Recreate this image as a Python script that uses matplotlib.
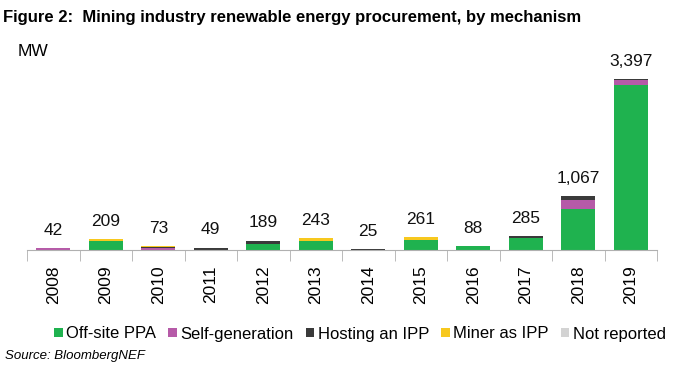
import matplotlib
matplotlib.use("Agg")
import matplotlib.pyplot as plt
import numpy as np

plt.rcParams['font.family'] = ['Liberation Sans', 'DejaVu Sans']

years = ["2008", "2009", "2010", "2011", "2012", "2013", "2014", "2015", "2016", "2017", "2018", "2019"]
totals = [42, 209, 73, 49, 189, 243, 25, 261, 88, 285, 1067, 3397]
offsite_ppa = [0, 180, 0, 0, 110, 180, 0, 190, 88, 240, 810, 3290]
self_generation = [30, 0, 30, 0, 0, 0, 0, 0, 0, 0, 180, 97]
hosting_ipp = [0, 0, 20, 49, 79, 0, 15, 0, 0, 45, 77, 10]
miner_as_ipp = [12, 29, 23, 0, 0, 63, 0, 71, 0, 0, 0, 0]
not_reported = [0, 0, 0, 0, 0, 0, 10, 0, 0, 0, 0, 0]

series = [
    ("Off-site PPA", offsite_ppa, "#1fb24f"),
    ("Self-generation", self_generation, "#b65aa8"),
    ("Hosting an IPP", hosting_ipp, "#3a3a3a"),
    ("Miner as IPP", miner_as_ipp, "#f7c81e"),
    ("Not reported", not_reported, "#d3d3d3"),
]

fig = plt.figure(figsize=(6.76, 3.69), dpi=100)
ax = fig.add_axes([27/676, 1-250/369, 630/676, (250-59)/369])

x = np.arange(len(years))
bottom = np.zeros(len(years))
for name, vals, col in series:
    v = np.array(vals, dtype=float)
    ax.bar(x, v, bottom=bottom, width=0.65, color=col, label=name, linewidth=0)
    bottom += v

for xi, t in zip(x, totals):
    ax.text(xi, t + 200, f"{t:,}", ha="center", va="bottom", fontsize=12.5, color="#111111")

ax.set_xlim(-0.5, len(years) - 0.5)
ax.set_ylim(0, 3800)
for s in ["top", "right", "left"]:
    ax.spines[s].set_visible(False)
ax.spines["bottom"].set_color("#b0b0b0")
ax.set_yticks([])
ax.set_xticks(x)
ax.set_xticklabels(years, rotation=90, fontsize=12.5)
ax.tick_params(axis="x", which="major", length=0, pad=11)
ax.set_xticks(np.arange(-0.5, len(years), 1), minor=True)
ax.tick_params(axis="x", which="minor", length=8, color="#b0b0b0")

fig.text(0.004, 1-10/369, "Figure 2:  Mining industry renewable energy procurement, by mechanism",
         fontsize=12, fontweight="bold", va="top", ha="left")
fig.text(18/676, 1-52/369, "MW", fontsize=12.5, va="center", ha="left")

leg = fig.legend(loc="center", bbox_to_anchor=(360/676, 1-334/369), ncol=5, frameon=False,
                 fontsize=12, handlelength=0.5, handleheight=0.5, handletextpad=0.2,
                 columnspacing=0.75, borderpad=0)
fig.text(5/676, 1-356/369, "Source: BloombergNEF", fontsize=9.5, style="italic", va="center", ha="left")

fig.savefig("out.png", dpi=100)
